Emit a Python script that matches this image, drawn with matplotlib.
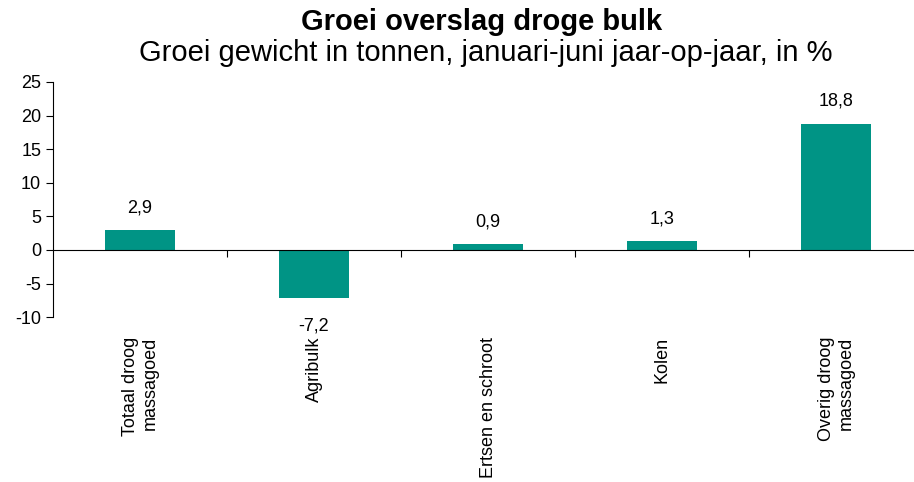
import matplotlib.pyplot as plt

categories = ["Totaal droog\nmassagoed", "Agribulk", "Ertsen en schroot", "Kolen", "Overig droog\nmassagoed"]
values = [2.9, -7.2, 0.9, 1.3, 18.8]
value_labels = ["2,9", "-7,2", "0,9", "1,3", "18,8"]

plt.rcParams['font.family'] = ['Liberation Sans', 'DejaVu Sans']
plt.rcParams['axes.unicode_minus'] = False

fig = plt.figure(figsize=(9.14, 4.82), dpi=100)
ax = fig.add_axes([0.058, 0.342, 0.952, 0.488])

x = range(len(categories))
ax.bar(x, values, width=0.4, color="#009485", zorder=2)

# value labels above / below the bars
for xi, v, lab in zip(x, values, value_labels):
    if v >= 0:
        ax.annotate(lab, (xi, v), xytext=(0, 10), textcoords="offset points",
                    ha="center", va="bottom", fontsize=13)
    else:
        ax.annotate(lab, (xi, v), xytext=(0, -14), textcoords="offset points",
                    ha="center", va="top", fontsize=13)

ax.set_ylim(-10, 25)
ax.set_yticks(range(-10, 30, 5))
ax.set_xlim(-0.5, len(categories) - 0.5)
ax.tick_params(axis="y", labelsize=13, length=5, direction="out")

# x axis at zero with ticks between categories
ax.spines["bottom"].set_position(("data", 0))
ax.spines["top"].set_visible(False)
ax.spines["right"].set_visible(False)
ax.set_xticks([i + 0.5 for i in range(len(categories) - 1)])
ax.set_xticklabels([])
ax.tick_params(axis="x", length=5, direction="out")

for xi, cat in zip(x, categories):
    ax.annotate(cat, (xi, -10), xytext=(0, -14), textcoords="offset points",
                rotation=90, ha="center", va="top", multialignment="right",
                fontsize=13, annotation_clip=False)

fig.text(0.527, 0.954, "Groei overslag droge bulk", ha="center", va="center",
         fontsize=21, fontweight="bold")
fig.text(0.531, 0.891, "Groei gewicht in tonnen, januari-juni jaar-op-jaar, in %",
         ha="center", va="center", fontsize=21)

fig.savefig("out.png", dpi=100)
